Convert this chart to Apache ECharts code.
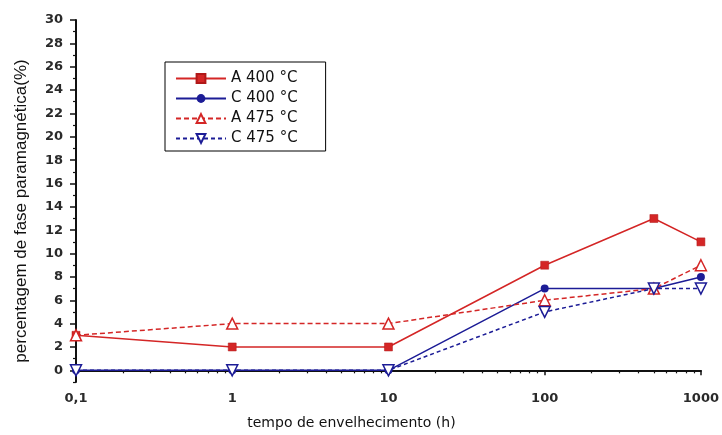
<!DOCTYPE html>
<html>
<head>
<meta charset="utf-8">
<script src="https://cdn.jsdelivr.net/npm/echarts@6/dist/echarts.min.js"></script>
<style>
html,body{margin:0;padding:0;background:#fff;}
#c{width:722px;height:435px;}
</style>
</head>
<body>
<div id="c"></div>
<script>
// ---- data ----
const hours = [0.1, 1, 10, 100, 500, 1000];
const seriesNames = ['A 400 °C', 'C 400 °C', 'A 475 °C', 'C 475 °C'];
const a400 = [3, 2, 2, 9, 13, 11];
const c400 = [0, 0, 0, 7, 7, 8];
const a475 = [3, 4, 4, 6, 7, 9];
const c475 = [0, 0, 0, 5, 7, 7];
const yMajorTicks = [0, 2, 4, 6, 8, 10, 12, 14, 16, 18, 20, 22, 24, 26, 28, 30];
const yMinorTicks = [-1, 1, 3, 5, 7, 9, 11, 13, 15, 17, 19, 21, 23, 25, 27, 29];
const xMajorTicks = [0.1, 1, 10, 100, 1000];
const xTickLabels = ['0,1', '1', '10', '100', '1000'];
const xMinorTicks = [0.2,0.3,0.4,0.5,0.6,0.7,0.8,0.9,2,3,4,5,6,7,8,9,20,30,40,50,60,70,80,90,200,300,400,500,600,700,800,900];
const xTitle = 'tempo de envelhecimento (h)';
const yTitle = 'percentagem de fase paramagnética(%)';

const RED = '#d42626';
const BLUE = '#1c1c96';

function pairs(ys) { return hours.map((h, i) => [h, ys[i]]); }

const chart = echarts.init(document.getElementById('c'), null, {renderer: 'canvas'});
const labelFont = {fontFamily: 'DejaVu Sans', fontSize: 13, fontWeight: 'bold', color: '#2a2a2a'};

chart.setOption({
  animation: false,
  backgroundColor: '#fff',
  grid: {left: 76, right: 20, top: 20, bottom: 52, containLabel: false},
  legend: {
    orient: 'vertical', left: 165, top: 62,
    backgroundColor: '#fff', borderColor: '#000', borderWidth: 1, borderRadius: 0,
    padding: [9, 28, 5, 10],
    itemWidth: 50, itemHeight: 11, itemGap: 5,
    textStyle: {fontFamily: 'DejaVu Sans', fontSize: 15, color: '#111'},
    data: seriesNames
  },
  xAxis: [
    {
      type: 'log', logBase: 10, min: 0.1, max: 1000,
      name: xTitle, nameLocation: 'middle', nameGap: 34,
      nameTextStyle: {fontFamily: 'DejaVu Sans', fontSize: 14, color: '#111', padding: [0, 74, 0, 0]},
      axisLine: {show: true, lineStyle: {color: '#111', width: 2}},
      axisTick: {show: true, length: 5, customValues: xMajorTicks, lineStyle: {color: '#111', width: 1.5}},
      axisLabel: {
        customValues: xMajorTicks, margin: 10, ...labelFont,
        formatter: function (v) { return xTickLabels[Math.round(Math.log10(v)) + 1]; }
      },
      splitLine: {show: false}, minorSplitLine: {show: false}
    },
    {
      type: 'log', logBase: 10, min: 0.1, max: 1000, position: 'bottom',
      axisLine: {show: false},
      axisTick: {show: true, length: 3, customValues: xMinorTicks, lineStyle: {color: '#111', width: 1.2}},
      axisLabel: {show: false},
      splitLine: {show: false}
    }
  ],
  yAxis: [
    {
      type: 'value', min: -1, max: 30,
      name: yTitle, nameLocation: 'middle', nameGap: 46,
      nameTextStyle: {fontFamily: 'Liberation Sans', fontSize: 17, color: '#111', padding: [0, 20, 0, 0]},
      axisLine: {show: true, lineStyle: {color: '#111', width: 2}},
      axisTick: {show: true, length: 6, customValues: yMajorTicks, lineStyle: {color: '#111', width: 1.5}},
      axisLabel: {customValues: yMajorTicks, margin: 13, ...labelFont},
      splitLine: {show: false}
    },
    {
      type: 'value', min: -1, max: 30, position: 'left',
      axisLine: {show: false},
      axisTick: {show: true, length: 3, customValues: yMinorTicks, lineStyle: {color: '#111', width: 1.2}},
      axisLabel: {show: false},
      splitLine: {show: false}
    }
  ],
  series: [
    {
      name: seriesNames[0], type: 'line', data: pairs(a400), color: RED,
      symbol: 'rect', symbolSize: 8,
      lineStyle: {color: RED, width: 1.5, type: 'solid'},
      itemStyle: {color: RED, borderColor: '#b01818', borderWidth: 0.5}
    },
    {
      name: seriesNames[1], type: 'line', data: pairs(c400), color: BLUE,
      symbol: 'circle', symbolSize: 8,
      lineStyle: {color: BLUE, width: 1.5, type: 'solid'},
      itemStyle: {color: BLUE}
    },
    {
      name: seriesNames[2], type: 'line', data: pairs(a475), color: RED,
      symbol: 'triangle', symbolSize: 11,
      lineStyle: {color: RED, width: 1.5, type: [5, 3]},
      itemStyle: {color: '#fff', borderColor: RED, borderWidth: 1.5}
    },
    {
      name: seriesNames[3], type: 'line', data: pairs(c475), color: BLUE,
      symbol: 'triangle', symbolRotate: 180, symbolSize: 11,
      lineStyle: {color: BLUE, width: 1.5, type: [4, 3]},
      itemStyle: {color: '#fff', borderColor: BLUE, borderWidth: 1.5}
    }
  ]
});
</script>
</body>
</html>
